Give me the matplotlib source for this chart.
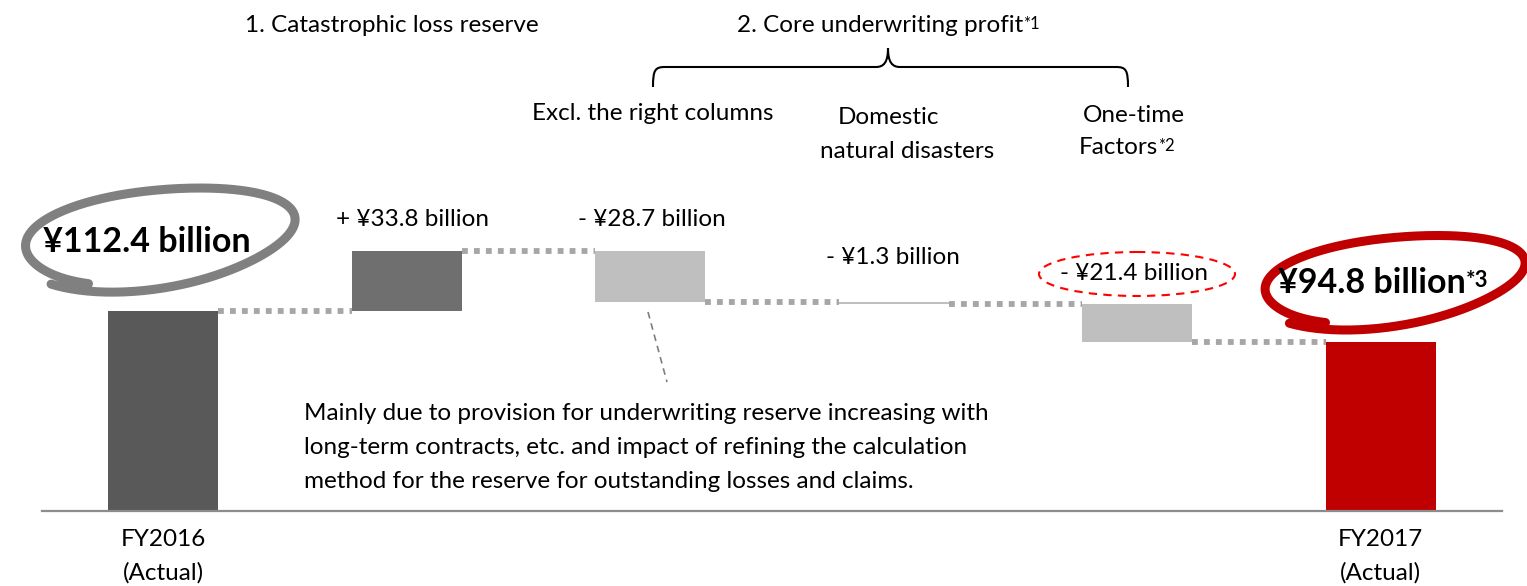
import numpy as np
import matplotlib
matplotlib.use("Agg")
import matplotlib.pyplot as plt
from matplotlib.path import Path
from matplotlib.patches import PathPatch, Ellipse

plt.rcParams['font.family'] = ['Lato', 'DejaVu Sans']

# data
categories = ["FY2016\n(Actual)", "Catastrophic loss reserve", "Excl. the right columns",
              "Domestic natural disasters", "One-time Factors", "FY2017\n(Actual)"]
start_value = 112.4
changes = [33.8, -28.7, -1.3, -21.4]
end_value = 94.8

bar_colors = ["#595959", "#6f6f6f", "#bfbfbf", "#bfbfbf", "#bfbfbf", "#c00000"]

# waterfall bottoms / heights
levels = np.concatenate([[start_value], start_value + np.cumsum(changes)])
bottoms = [0] + [min(levels[i], levels[i + 1]) for i in range(len(changes))] + [0]
heights = [start_value] + [abs(c) for c in changes] + [end_value]

W, H = 1527, 586
fig = plt.figure(figsize=(W / 100, H / 100), dpi=100)

# main axes: bar i centred at pixel 163 + 243.5*i, baseline at pixel row 511
px_step = 243.5
x0 = -163 / px_step
x1 = (W - 163) / px_step
ppu = 1.779
ax = fig.add_axes([0, 0, 1, 1])
ax.set_xlim(x0, x1)
ax.set_ylim(-(H - 511) / ppu, 511 / ppu)
ax.axis("off")

x = np.arange(len(categories))
bw = 110 / px_step
ax.bar(x, heights, bottom=bottoms, width=bw, color=bar_colors, zorder=3)

# dotted connectors
for i in range(len(levels)):
    ax.plot([x[i] + bw / 2, x[i + 1] - bw / 2], [levels[i], levels[i]],
            color="#a6a6a6", lw=4.2, linestyle=(0, (1, 1.05)), zorder=2,
            solid_capstyle="butt", dash_capstyle="butt")

# baseline
ax.plot([x0 + 42 / px_step, x0 + 1502 / px_step], [0, 0], color="#8c8c8c", lw=1.6, zorder=4)

# overlay in pixel coordinates for annotations
ov = fig.add_axes([0, 0, 1, 1])
ov.set_xlim(0, W)
ov.set_ylim(H, 0)
ov.axis("off")
ov.patch.set_alpha(0)

fs = 17.5
sup = 12
# x tick labels
for i in [0, len(categories) - 1]:
    lines = categories[i].split("\n")
    cx = 163 + px_step * i
    ov.text(cx, 540, lines[0], ha="center", va="center", fontsize=fs)
    ov.text(cx, 573, lines[1], ha="center", va="center", fontsize=fs)

# headers
ov.text(392, 25, "1. " + categories[1], ha="center", va="center", fontsize=fs)
t = ov.text(880, 25, "2. Core underwriting profit", ha="center", va="center", fontsize=fs)
ov.annotate("*1", xy=(1, 0.95), xycoords=t, va="top", ha="left", fontsize=sup)

# brace
verts = [(653, 87), (653, 70), (655, 67), (665, 67),
         (876, 67), (884, 67), (888, 62), (888, 48),
         (888, 62), (892, 67), (900, 67),
         (1116, 67), (1126, 67), (1128, 70), (1128, 87)]
codes = [Path.MOVETO, Path.CURVE4, Path.CURVE4, Path.CURVE4,
         Path.LINETO, Path.CURVE4, Path.CURVE4, Path.CURVE4,
         Path.CURVE4, Path.CURVE4, Path.CURVE4,
         Path.LINETO, Path.CURVE4, Path.CURVE4, Path.CURVE4]
ov.add_patch(PathPatch(Path(verts, codes), fill=False, lw=1.5, ec="black"))

ov.text(653, 114, categories[2], ha="center", va="center", fontsize=fs)
ov.text(889, 117, "Domestic", ha="center", va="center", fontsize=fs)
ov.text(907, 151, "natural disasters", ha="center", va="center", fontsize=fs)
ov.text(1134, 116, "One-time", ha="center", va="center", fontsize=fs)
t2 = ov.text(1118, 147, "Factors", ha="center", va="center", fontsize=fs)
ov.annotate("*2", xy=(1, 0.95), xycoords=t2, va="top", ha="left", fontsize=sup)

# change labels
def fmt(v):
    return ("+ " if v > 0 else "- ") + "¥{:.1f} billion".format(abs(v))

label_pos = [(413, 219), (652, 219), (893, 257), (1134, 274)]
for v, (lx, ly) in zip(changes, label_pos):
    ov.text(lx, ly, fmt(v), ha="center", va="center", fontsize=fs)

ov.add_patch(Ellipse((1137, 274), 196, 44, fill=False, ec="#ff0000", lw=1.5,
                     linestyle=(0, (4, 3))))

# hand-drawn loops
def scribble(cx, cy, a, b, tilt, color, lw):
    tt = np.linspace(np.deg2rad(222), np.deg2rad(222 + 375), 300)
    s = np.linspace(1.03, 0.9, tt.size)
    wob = 1 + 0.03 * np.sin(3 * tt + 0.7)
    xe = a * s * wob * np.cos(tt)
    ye = b * s * wob * np.sin(tt)
    ph = np.deg2rad(tilt)
    xr = cx + xe * np.cos(ph) - ye * np.sin(ph)
    yr = cy - (xe * np.sin(ph) + ye * np.cos(ph))
    ov.plot(xr, yr, color=color, lw=lw, solid_capstyle="round")

scribble(154, 237, 142, 50, 7, "#808080", 6.5)
scribble(1389, 280, 137, 45, 7, "#c00000", 6.5)

ov.text(147, 242, "¥{:.1f} billion".format(start_value), ha="center", va="center",
        fontsize=24.5, fontweight="bold")
t3 = ov.text(1372, 283, "¥{:.1f} billion".format(end_value), ha="center", va="center",
             fontsize=24.5, fontweight="bold")
ov.annotate("*3", xy=(1, 0.92), xycoords=t3, va="top", ha="left", fontsize=16,
            fontweight="bold")

# note
ov.plot([648, 667], [312, 382], color="#7f7f7f", lw=1.2, linestyle=(0, (4, 3)))
note = ["Mainly due to provision for underwriting reserve increasing with",
        "long-term contracts, etc. and impact of refining the calculation",
        "method for the reserve for outstanding losses and claims."]
for k, line in enumerate(note):
    ov.text(304, 414 + 34 * k, line, ha="left", va="center", fontsize=fs)

fig.savefig("out.png", dpi=100)
